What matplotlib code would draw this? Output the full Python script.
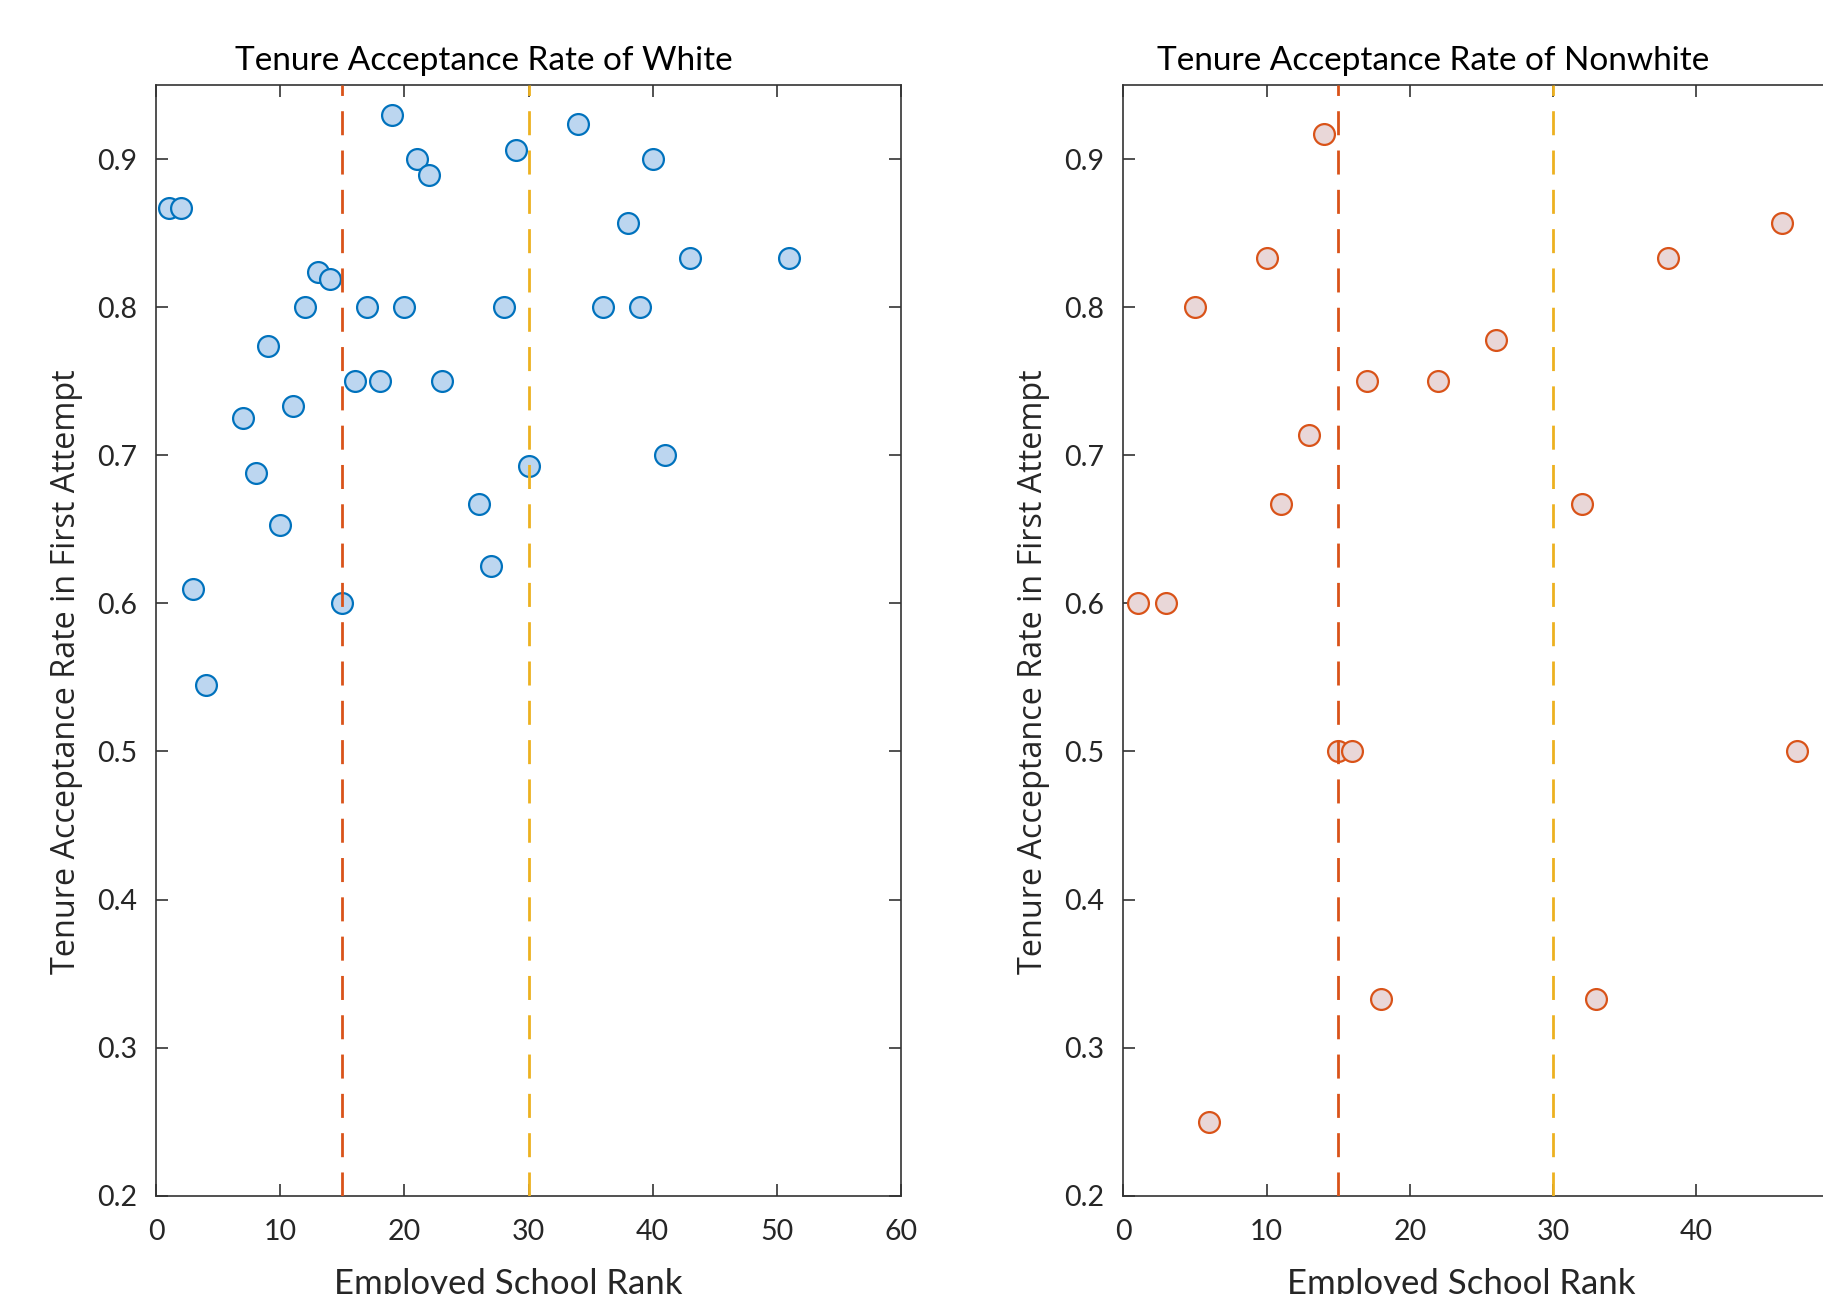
import matplotlib
matplotlib.use("Agg")
import matplotlib.pyplot as plt

plt.rcParams['font.family'] = ['Lato', 'DejaVu Sans']
plt.rcParams['lines.scale_dashes'] = False

# ---- data ----
white_rank = [1, 2, 3, 4, 7, 8, 9, 10, 11, 12, 13, 14, 15, 16, 17, 18, 19, 20, 21, 22,
              23, 26, 27, 28, 29, 30, 34, 36, 38, 39, 40, 41, 43, 51]
white_rate = [0.867, 0.867, 0.610, 0.545, 0.725, 0.688, 0.774, 0.653, 0.733, 0.800,
              0.824, 0.819, 0.600, 0.750, 0.800, 0.750, 0.930, 0.800, 0.900, 0.889,
              0.750, 0.667, 0.625, 0.800, 0.906, 0.693, 0.924, 0.800, 0.857, 0.800,
              0.900, 0.700, 0.833, 0.833]

nonwhite_rank = [1, 3, 5, 6, 10, 11, 13, 14, 15, 16, 17, 18, 22, 26, 32, 33, 38, 46, 47]
nonwhite_rate = [0.600, 0.600, 0.800, 0.250, 0.833, 0.667, 0.714, 0.917, 0.500, 0.500,
                 0.750, 0.333, 0.750, 0.778, 0.667, 0.333, 0.833, 0.857, 0.500]

cutoffs = [15, 30]
yticks = [0.2, 0.3, 0.4, 0.5, 0.6, 0.7, 0.8, 0.9]
xticks_left = [0, 10, 20, 30, 40, 50, 60]
xticks_right = [0, 10, 20, 30, 40, 50]

titles = ["Tenure Acceptance Rate of White", "Tenure Acceptance Rate of Nonwhite"]
xlabel = "Employed School Rank"
ylabel = "Tenure Acceptance Rate in First Attempt"

W, H = 1823, 1294
fig = plt.figure(figsize=(W / 100, H / 100), dpi=100)

spine_col = '#333333'
line_cols = ['#D95319', '#EDB120']

def fx(px):
    return px / W

def fy(py):
    return 1 - py / H

ax_bottom = fy(1195.7)
ax_top = fy(85)
axL = fig.add_axes([fx(156.2), ax_bottom, fx(901 - 156.2), ax_top - ax_bottom])
axR = fig.add_axes([fx(1123.2), ax_bottom, fx(50 * 14.33), ax_top - ax_bottom])

panels = [
    (axL, white_rank, white_rate, '#0072BD', '#BCD6F0', (0, 60), xticks_left),
    (axR, nonwhite_rank, nonwhite_rate, '#D95319', '#E9D7D8', (0, 50), xticks_right),
]

for ax, xs, ys, ec, fc, xlim, xt in panels:
    ax.scatter(xs, ys, s=225, facecolor=fc, edgecolor=ec, linewidths=1.6,
               zorder=3, clip_on=False)
    for c, col in zip(cutoffs, line_cols):
        ax.axvline(c, color=col, lw=2.0, dashes=(17.3, 11), zorder=4)
    ax.set_xlim(*xlim)
    ax.set_ylim(0.2, 0.95)
    ax.set_xticks(xt)
    ax.set_yticks(yticks)
    ax.set_xticklabels([str(v) for v in xt])
    ax.set_yticklabels([f"{v:.1f}" for v in yticks])
    ax.tick_params(direction='in', length=8.6, width=1.2, colors=spine_col,
                   top=True, right=True, labelsize=20.5, labelcolor='#262626')
    ax.tick_params(axis='y', pad=14)
    ax.tick_params(axis='x', pad=17)
    for sp in ax.spines.values():
        sp.set_color(spine_col)
        sp.set_linewidth(1.2)

# titles
fig.text(fx(484), fy(70), titles[0], ha='center', va='baseline', fontsize=24, color='black')
fig.text(fx(1432.9), fy(70), titles[1], ha='center', va='baseline', fontsize=24, color='black')

# x labels
fig.text(fx(508.6), fy(1294), xlabel, ha='center', va='baseline', fontsize=25, color='#262626')
fig.text(fx(1460.8), fy(1294), xlabel, ha='center', va='baseline', fontsize=25, color='#262626')

# y labels
for bx in [75, 1042]:
    fig.text(fx(bx), fy(672), ylabel, ha='center', va='baseline', rotation=90,
             rotation_mode='anchor', fontsize=23.3, color='#262626',
             family=['Open Sans', 'DejaVu Sans'])

fig.savefig("out.png", dpi=100)
